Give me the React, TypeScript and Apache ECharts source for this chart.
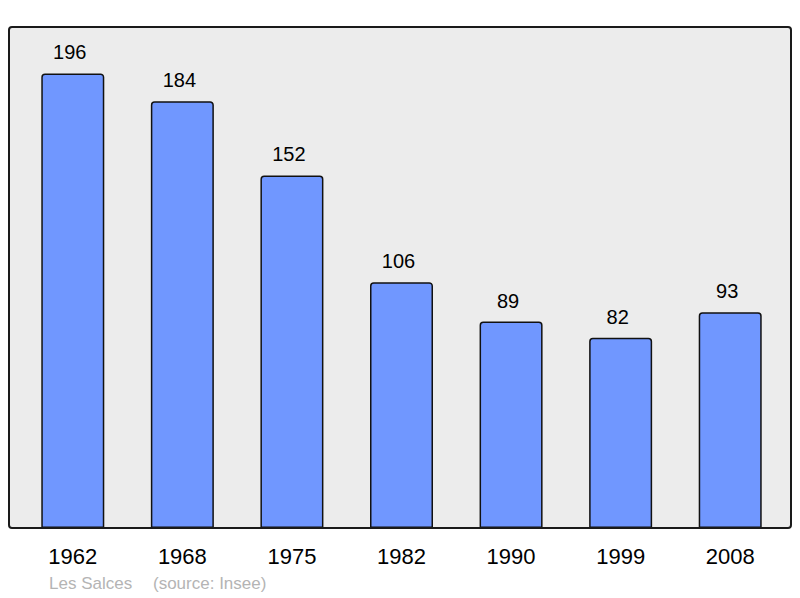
import React, { useRef, useEffect } from 'react';
import * as echarts from 'echarts';

const years = ['1962', '1968', '1975', '1982', '1990', '1999', '2008'];
const population = [196, 184, 152, 106, 89, 82, 93];
const place = 'Les Salces';
const source = '(source: Insee)';

const FONT = '"Liberation Sans", Arial, sans-serif';

export default function App() {
    const chartRef = useRef<HTMLDivElement>(null);

    useEffect(() => {
        if (!chartRef.current) return;
        const chart = echarts.init(chartRef.current, null, { renderer: 'svg' });

        const option: echarts.EChartsOption = {
            animation: false,
            backgroundColor: '#ffffff',
            grid: { left: 18, right: 15, top: 27, bottom: 70 },
            xAxis: {
                type: 'category',
                data: years,
                axisLine: { show: false },
                axisTick: { show: false },
                axisLabel: {
                    color: '#000',
                    fontSize: 22,
                    fontFamily: FONT,
                    margin: 17
                }
            },
            yAxis: {
                type: 'value',
                min: 0,
                max: 216,
                show: false
            },
            graphic: [
                {
                    type: 'rect',
                    z: 0,
                    shape: { x: 9, y: 27, width: 782, height: 501, r: 3 },
                    style: { fill: '#ececec', stroke: 'none' }
                },
                {
                    type: 'rect',
                    z: 100,
                    shape: { x: 9, y: 27, width: 782, height: 501, r: 3 },
                    style: { fill: 'none', stroke: '#1a1a1a', lineWidth: 2 }
                },
                {
                    type: 'text',
                    left: 49,
                    top: 575,
                    style: { text: place, fill: '#b4b4b4', fontSize: 17, fontFamily: FONT }
                },
                {
                    type: 'text',
                    left: 153,
                    top: 575,
                    style: { text: source, fill: '#b4b4b4', fontSize: 17, fontFamily: FONT }
                }
            ],
            series: [
                {
                    type: 'bar',
                    data: population,
                    barWidth: 63,
                    z: 10,
                    itemStyle: {
                        color: '#7097ff',
                        borderColor: '#111',
                        borderWidth: 1.5,
                        borderRadius: [3, 3, 0, 0]
                    },
                    label: {
                        show: true,
                        position: 'top',
                        distance: 11,
                        offset: [-3, 0],
                        color: '#000',
                        fontSize: 20,
                        fontFamily: FONT
                    }
                }
            ]
        };

        chart.setOption(option);
        return () => {
            chart.dispose();
        };
    }, []);

    return (
        <div
            ref={chartRef}
            style={{ position: 'fixed', left: 0, top: 0, width: 800, height: 598 }}
        />
    );
}
